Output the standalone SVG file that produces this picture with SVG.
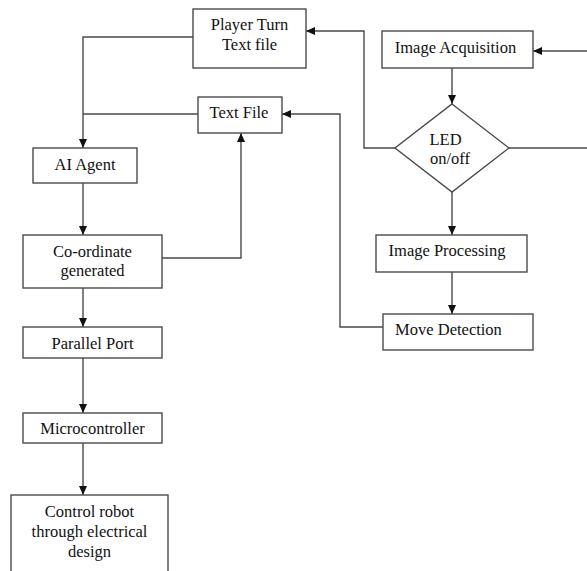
<svg xmlns="http://www.w3.org/2000/svg" width="587" height="571" viewBox="0 0 587 571">
<style>
.box{fill:#fff;stroke:#4a4a4a;stroke-width:1.4}
.ln{fill:none;stroke:#4a4a4a;stroke-width:1.4}
text{font-family:"Liberation Serif","Times New Roman",serif;font-size:16.5px;fill:#111;text-anchor:middle}
</style>
<defs>
<marker id="ah" markerUnits="userSpaceOnUse" markerWidth="9" markerHeight="8" refX="9" refY="4" orient="auto">
<path d="M0,0 L9,4 L0,8 z" fill="#111"/>
</marker>
</defs>
<g id="connectors">
<path class="ln" d="M193,37 H83 V148" marker-end="url(#ah)"/>
<path class="ln" d="M198,114 H83"/>
<path class="ln" d="M83,183 V235" marker-end="url(#ah)"/>
<path class="ln" d="M162,258 H241 V133" marker-end="url(#ah)"/>
<path class="ln" d="M83,288 V327" marker-end="url(#ah)"/>
<path class="ln" d="M83,358 V413" marker-end="url(#ah)"/>
<path class="ln" d="M83,443 V495" marker-end="url(#ah)"/>
<path class="ln" d="M587,51 H533" marker-end="url(#ah)"/>
<path class="ln" d="M452,68 V104" marker-end="url(#ah)"/>
<path class="ln" d="M395,148 H364 V31 H306" marker-end="url(#ah)"/>
<path class="ln" d="M509,148 H587"/>
<path class="ln" d="M452,192 V235" marker-end="url(#ah)"/>
<path class="ln" d="M452,272 V314" marker-end="url(#ah)"/>
<path class="ln" d="M383,327 H340 V114 H282" marker-end="url(#ah)"/>
</g>
<g id="player-turn"><rect class="box" x="193" y="9" width="113" height="59"/><text x="249.5" y="30">Player Turn</text><text x="249.5" y="50">Text file</text></g>
<g id="text-file"><rect class="box" x="198" y="97" width="84" height="36"/><text x="239" y="118">Text File</text></g>
<g id="ai-agent"><rect class="box" x="33" y="148" width="104" height="35"/><text x="85" y="169.5">AI Agent</text></g>
<g id="coordinate"><rect class="box" x="23" y="235" width="139" height="53"/><text x="92.5" y="256.5">Co-ordinate</text><text x="92.5" y="276">generated</text></g>
<g id="parallel-port"><rect class="box" x="23" y="327" width="139" height="31"/><text x="92.5" y="348.5">Parallel Port</text></g>
<g id="microcontroller"><rect class="box" x="23" y="413" width="139" height="30"/><text x="92.5" y="433.5">Microcontroller</text></g>
<g id="control-robot"><rect class="box" x="11" y="495" width="157" height="85"/><text x="89.5" y="517">Control robot</text><text x="89.5" y="537">through electrical</text><text x="89.5" y="557">design</text></g>
<g id="image-acquisition"><rect class="box" x="382" y="31" width="151" height="37"/><text x="455.5" y="52.5">Image Acquisition</text></g>
<g id="led"><polygon class="box" points="452,104 509,148 452,192 395,148"/><text x="429.5" y="145" style="text-anchor:start">LED</text><text x="430" y="163.5" style="text-anchor:start">on/off</text></g>
<g id="image-processing"><rect class="box" x="376" y="235" width="151" height="37"/><text x="447" y="255.5">Image Processing</text></g>
<g id="move-detection"><rect class="box" x="383" y="314" width="150" height="36"/><text x="448.5" y="334.5">Move Detection</text></g>
</svg>
